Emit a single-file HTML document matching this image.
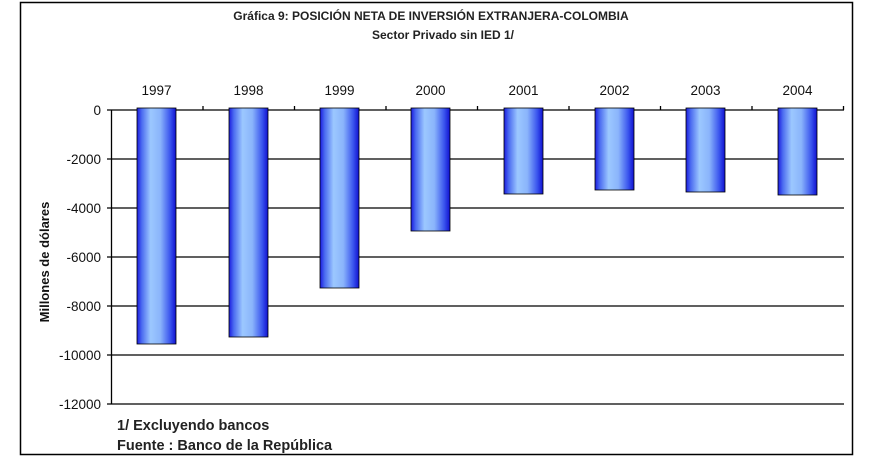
<!DOCTYPE html>
<html><head><meta charset="utf-8"><style>
html,body{margin:0;padding:0;background:#fff;}
svg{display:block;font-family:"Liberation Sans",Arial,sans-serif;}
</style></head><body>
<svg width="887" height="476" viewBox="0 0 887 476" xmlns="http://www.w3.org/2000/svg">
<defs>
<linearGradient id="g" x1="0" x2="1" y1="0" y2="0">
<stop offset="0" stop-color="#1a1ae0"/>
<stop offset="0.12" stop-color="#4a6af0"/>
<stop offset="0.35" stop-color="#9cc8ff"/>
<stop offset="0.6" stop-color="#8ab4fb"/>
<stop offset="0.85" stop-color="#3a55ee"/>
<stop offset="1" stop-color="#1010d0"/>
</linearGradient>
</defs>
<rect x="20.5" y="2.5" width="832" height="452" fill="#fff" stroke="#000" stroke-width="1.5"/>
<text x="431" y="20" font-size="12" font-weight="bold" text-anchor="middle" fill="#222">Gráfica 9: POSICIÓN NETA DE INVERSIÓN EXTRANJERA-COLOMBIA</text>
<text x="443" y="39" font-size="12" font-weight="bold" text-anchor="middle" fill="#222">Sector Privado sin IED 1/</text>
<g stroke="#000" stroke-width="1.3">
<line x1="107" y1="110" x2="844" y2="110"/>
<line x1="107" y1="159" x2="844" y2="159"/>
<line x1="107" y1="208" x2="844" y2="208"/>
<line x1="107" y1="257" x2="844" y2="257"/>
<line x1="107" y1="306" x2="844" y2="306"/>
<line x1="107" y1="355" x2="844" y2="355"/>
<line x1="107" y1="404" x2="844" y2="404"/>
<line x1="111.5" y1="110" x2="111.5" y2="404"/>
<line x1="203" y1="110" x2="203" y2="106"/>
<line x1="294.5" y1="110" x2="294.5" y2="106"/>
<line x1="386" y1="110" x2="386" y2="106"/>
<line x1="477.5" y1="110" x2="477.5" y2="106"/>
<line x1="569" y1="110" x2="569" y2="106"/>
<line x1="660.5" y1="110" x2="660.5" y2="106"/>
<line x1="752" y1="110" x2="752" y2="106"/>
<line x1="843.5" y1="110" x2="843.5" y2="106"/>
</g>
<g fill="url(#g)" stroke="#000" stroke-width="0.8">
<rect x="137" y="108" width="39" height="236"/>
<rect x="229" y="108" width="39" height="229"/>
<rect x="320" y="108" width="39" height="180"/>
<rect x="411" y="108" width="39" height="123"/>
<rect x="504" y="108" width="39" height="86"/>
<rect x="595" y="108" width="39" height="82"/>
<rect x="686" y="108" width="39" height="84"/>
<rect x="778" y="108" width="39" height="87"/>
</g>
<g font-size="13.5" text-anchor="middle" fill="#111">
<text x="156.5" y="95">1997</text><text x="248.5" y="95">1998</text><text x="339.5" y="95">1999</text><text x="430.5" y="95">2000</text>
<text x="523.5" y="95">2001</text><text x="614.5" y="95">2002</text><text x="705.5" y="95">2003</text><text x="797.5" y="95">2004</text>
</g>
<g font-size="13.5" text-anchor="end" fill="#111">
<text x="101" y="115">0</text><text x="101" y="164">-2000</text><text x="101" y="213">-4000</text><text x="101" y="262">-6000</text>
<text x="101" y="311">-8000</text><text x="101" y="360">-10000</text><text x="101" y="409">-12000</text>
</g>
<text transform="translate(49,262) rotate(-90)" font-size="13" font-weight="bold" text-anchor="middle" fill="#111">Millones de dólares</text>
<text x="117" y="430" font-size="14.5" font-weight="bold" fill="#222">1/ Excluyendo bancos</text>
<text x="117" y="450" font-size="14.5" font-weight="bold" fill="#222">Fuente : Banco de la República</text>
</svg>
</body></html>
